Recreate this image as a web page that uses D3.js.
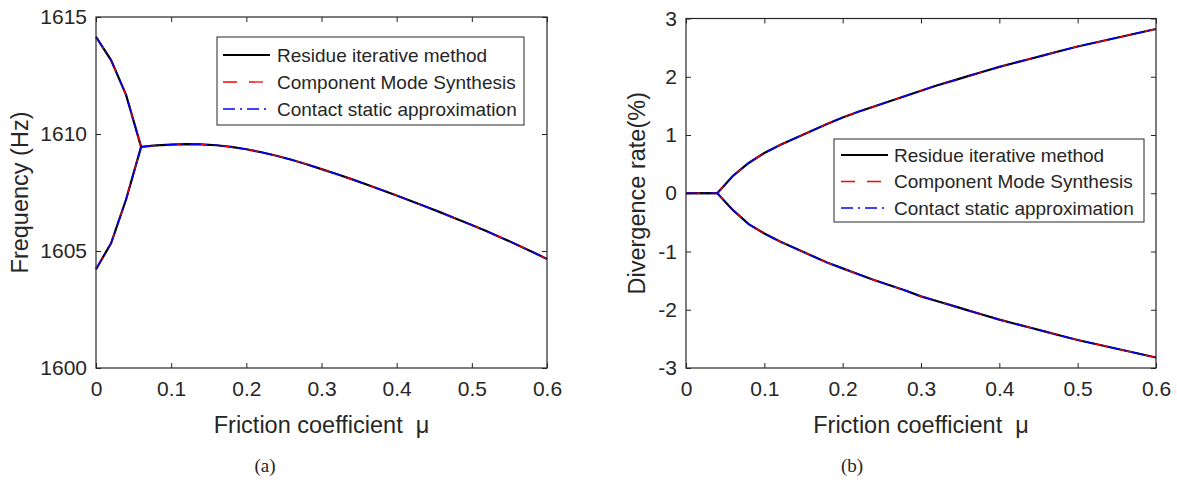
<!DOCTYPE html>
<html>
<head>
<meta charset="utf-8">
<script src="https://cdn.jsdelivr.net/npm/d3@7"></script>
<style>
  body { margin: 0; background: #fff; }
  text { font-family: "Liberation Sans", Arial, Helvetica, sans-serif; fill: #262626; }
</style>
</head>
<body>
<div id="chart"></div>
<script>
// friction coefficient samples
const muSplit = [0, 0.02, 0.04, 0.06];
const muMerged = [0.06, 0.08, 0.10, 0.12, 0.14, 0.16, 0.18, 0.20, 0.22, 0.24, 0.26, 0.28, 0.30,
                  0.32, 0.34, 0.36, 0.38, 0.40, 0.42, 0.44, 0.46, 0.48, 0.50, 0.52, 0.54, 0.56, 0.58, 0.60];
const muAll = [0, 0.02, 0.04, 0.06, 0.08, 0.10, 0.12, 0.14, 0.16, 0.18, 0.20, 0.22, 0.24, 0.26, 0.28, 0.30,
               0.32, 0.34, 0.36, 0.38, 0.40, 0.42, 0.44, 0.46, 0.48, 0.50, 0.52, 0.54, 0.56, 0.58, 0.60];

// (a) frequency, Hz
const freqUpper = [1614.15, 1613.16, 1611.67, 1609.45];
const freqLower = [1604.22, 1605.33, 1607.2, 1609.45];
const freqMerged = [1609.45, 1609.51, 1609.55, 1609.57, 1609.56, 1609.52, 1609.45, 1609.35, 1609.22, 1609.07,
                    1608.90, 1608.71, 1608.50, 1608.29, 1608.07, 1607.84, 1607.61, 1607.37, 1607.13, 1606.88,
                    1606.63, 1606.37, 1606.11, 1605.84, 1605.56, 1605.27, 1604.97, 1604.66];

// (b) divergence rate, %
const divUpper = [0, 0, 0, 0.30, 0.52, 0.69, 0.83, 0.95, 1.07, 1.19, 1.30, 1.40, 1.49, 1.58, 1.67, 1.76,
                  1.85, 1.93, 2.01, 2.09, 2.17, 2.24, 2.31, 2.38, 2.45, 2.52, 2.58, 2.64, 2.70, 2.76, 2.82];
const divLower = [0, 0, 0, -0.29, -0.53, -0.69, -0.83, -0.95, -1.07, -1.19, -1.29, -1.39, -1.49, -1.58, -1.67, -1.77,
                  -1.85, -1.93, -2.01, -2.09, -2.17, -2.24, -2.31, -2.38, -2.45, -2.52, -2.58, -2.64, -2.70, -2.76, -2.82];

const xTicks = [0, 0.1, 0.2, 0.3, 0.4, 0.5, 0.6];
const freqTicks = [1600, 1605, 1610, 1615];
const divTicks = [-3, -2, -1, 0, 1, 2, 3];
const methods = ["Residue iterative method", "Component Mode Synthesis", "Contact static approximation"];

const styles = [
  {color: "#000000", width: 2.2, dash: null},
  {color: "#ff0000", width: 1.3, dash: "14,12"},
  {color: "#0000ff", width: 1.4, dash: "12,5,2,5"}
];

const svg = d3.select("#chart").append("svg")
  .attr("width", 1177).attr("height", 486);

function panel(cfg) {
  const x = d3.scaleLinear().domain([0, 0.6]).range([cfg.left, cfg.right]);
  const y = d3.scaleLinear().domain(cfg.yDomain).range([cfg.bottom, cfg.top]);
  const g = svg.append("g");

  // axes (ticks point inward)
  const fmt = d => String(d);
  g.append("g").attr("transform", `translate(0,${cfg.bottom})`)
    .call(d3.axisBottom(x).tickValues(xTicks).tickFormat(fmt).tickSize(-5).tickPadding(13));
  g.append("g").attr("transform", `translate(0,${cfg.top})`)
    .call(d3.axisTop(x).tickValues(xTicks).tickFormat("").tickSize(-5));
  g.append("g").attr("transform", `translate(${cfg.left},0)`)
    .call(d3.axisLeft(y).tickValues(cfg.yTicks).tickFormat(fmt).tickSize(-5).tickPadding(9));
  g.append("g").attr("transform", `translate(${cfg.right},0)`)
    .call(d3.axisRight(y).tickValues(cfg.yTicks).tickFormat("").tickSize(-5));
  g.selectAll(".domain").remove();
  g.selectAll(".tick line").attr("stroke", "#262626");
  g.selectAll(".tick text").style("font-size", "21px").attr("fill", "#262626");

  // curves
  const line = d3.line().x(d => x(d[0])).y(d => y(d[1]));
  cfg.series.forEach(s => {
    styles.forEach(st => {
      g.append("path")
        .datum(d3.zip(s.x, s.y))
        .attr("fill", "none")
        .attr("stroke", st.color)
        .attr("stroke-width", st.width)
        .attr("stroke-dasharray", st.dash)
        .attr("d", line);
    });
  });

  // box
  g.append("rect")
    .attr("x", cfg.left).attr("y", cfg.top)
    .attr("width", cfg.right - cfg.left).attr("height", cfg.bottom - cfg.top)
    .attr("fill", "none").attr("stroke", "#262626").attr("stroke-width", 1.2);

  // labels
  g.append("text")
    .attr("x", (cfg.left + cfg.right) / 2).attr("y", 433)
    .attr("text-anchor", "middle").style("font-size", "23.5px")
    .style("white-space", "pre")
    .text("Friction coefficient  \u03bc");
  g.append("text")
    .attr("transform", `translate(${cfg.yLabelX},${(cfg.top + cfg.bottom) / 2}) rotate(-90)`)
    .attr("text-anchor", "middle").style("font-size", "23.5px")
    .text(cfg.yLabel);
  g.append("text")
    .attr("x", cfg.capX).attr("y", 472)
    .attr("text-anchor", "middle")
    .style("font-family", "'Liberation Serif', 'Times New Roman', serif")
    .style("font-size", "19px").attr("fill", "#000")
    .text(cfg.caption);

  // legend
  const L = cfg.legend;
  g.append("rect")
    .attr("x", L.x0).attr("y", L.y0)
    .attr("width", L.x1 - L.x0).attr("height", L.y1 - L.y0)
    .attr("fill", "#fff").attr("stroke", "#262626").attr("stroke-width", 1);
  methods.forEach((m, i) => {
    const ry = L.rows[i];
    g.append("line")
      .attr("x1", L.lx0).attr("x2", L.lx1).attr("y1", ry).attr("y2", ry)
      .attr("stroke", styles[i].color).attr("stroke-width", styles[i].width)
      .attr("stroke-dasharray", styles[i].dash);
    g.append("text")
      .attr("x", L.tx).attr("y", ry).attr("dy", "0.35em")
      .style("font-size", "19px").attr("fill", "#000")
      .text(m);
  });
}

panel({
  left: 96, right: 547, top: 17, bottom: 368,
  yDomain: [1600, 1615], yTicks: freqTicks,
  yLabel: "Frequency (Hz)", yLabelX: 28, caption: "(a)", capX: 265,
  series: [
    {x: muSplit, y: freqUpper},
    {x: muSplit, y: freqLower},
    {x: muMerged, y: freqMerged}
  ],
  legend: {x0: 217, x1: 524, y0: 37, y1: 125, lx0: 223, lx1: 270, tx: 277, rows: [55, 82, 109]}
});

panel({
  left: 686, right: 1156, top: 18.5, bottom: 368,
  yDomain: [-3, 3], yTicks: divTicks,
  yLabel: "Divergence rate(%)", yLabelX: 645, caption: "(b)", capX: 852,
  series: [
    {x: muAll, y: divUpper},
    {x: muAll, y: divLower}
  ],
  legend: {x0: 834, x1: 1144, y0: 139, y1: 222, lx0: 841, lx1: 888, tx: 894, rows: [155, 181.5, 208]}
});
</script>
</body>
</html>
